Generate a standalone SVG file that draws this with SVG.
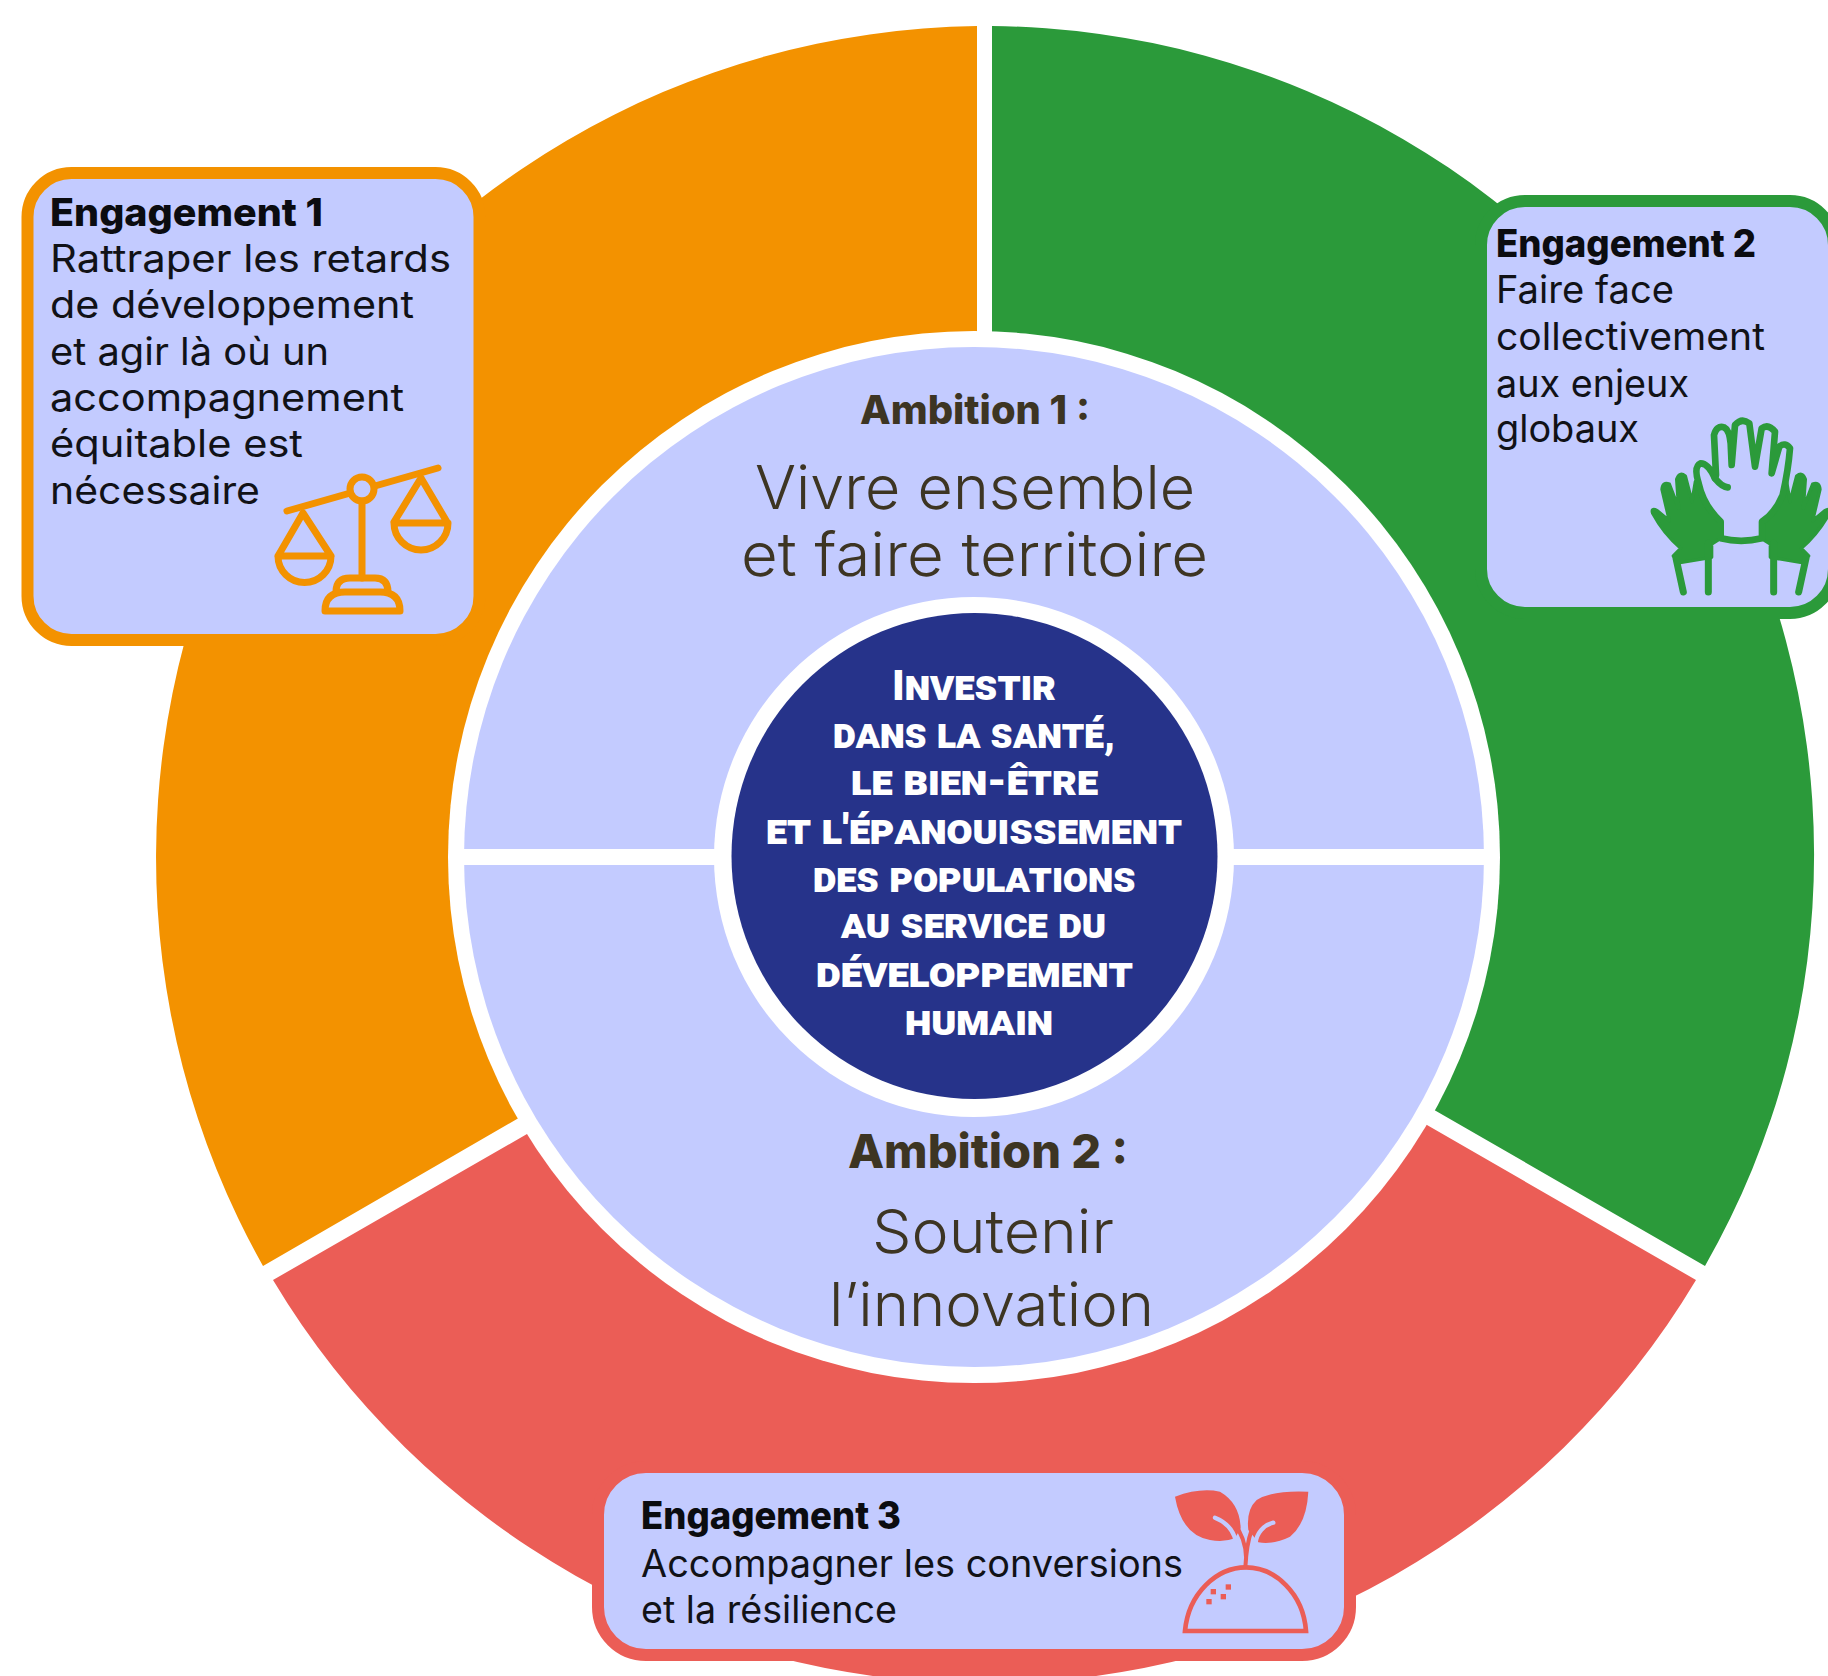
<svg xmlns="http://www.w3.org/2000/svg" xmlns:xlink="http://www.w3.org/1999/xlink" width="1828" height="1676" viewBox="0 0 1828 1676">
<style>
text{font-family:"Inter","Liberation Sans",sans-serif}
.e{font-size:38px;fill:#111217}
.eb{font-size:38px;font-weight:800;fill:#0b0c10}
.a{fill:#3d3523}
.ab{font-size:40px;font-weight:800}
.ab2{font-size:47px;font-weight:800}
.al{font-size:61px;font-weight:300}
.c{font-family:"Roboto","Liberation Sans",sans-serif;font-size:43px;font-weight:900;font-variant:small-caps;fill:#fff}
.box{fill:#c3cbff;stroke-width:12}
.ln{fill:none;stroke:#f39200;stroke-width:7;stroke-linecap:round;stroke-linejoin:round}
</style>
<defs>
<g id="sidehand">
<path fill="#2b9a3a" stroke="#2b9a3a" stroke-width="10" stroke-linejoin="round" d="M578,1000Q572,982 592,992L628,1022L606,928Q608,904 628,912L656,985L650,898Q658,874 676,888L696,965L706,905L726,960Q750,1005 782,1025V1075L755,1092V1132L660,1148L640,1128L662,1105Q610,1060 578,1000Z"/>
<path fill="none" stroke="#2b9a3a" stroke-width="21" stroke-linecap="round" d="M745,1090V1236M648,1135L670,1236"/>
</g>
</defs>
<rect width="1828" height="1676" fill="#fff"/>
<g id="sectors">
<path id="sector-orange" fill="#f39200" d="M977,857V26A832,832 0 0 0 263,1266L517,1119Z"/>
<path id="sector-green" fill="#2b9a3a" d="M992,857V26A829,829 0 0 1 1705,1266L1436,1111Z"/>
<path id="sector-red" fill="#eb5d56" d="M974,857L527,1134L273,1280A829,829 0 0 0 1696,1280L1427,1125Z"/>
</g>
<g id="ambitions">
<circle cx="974" cy="857" r="526" fill="#fff"/>
<circle cx="974" cy="857" r="510" fill="#c3cbff"/>
<rect x="460" y="849" width="1030" height="16" fill="#fff"/>
<text class="a ab" x="860" y="424" textLength="230" lengthAdjust="spacingAndGlyphs">Ambition 1 :</text>
<text class="a al" x="755" y="509" textLength="440" lengthAdjust="spacingAndGlyphs">Vivre ensemble</text>
<text class="a al" x="741" y="576" textLength="467" lengthAdjust="spacingAndGlyphs">et faire territoire</text>
<text class="a ab2" x="848" y="1168" textLength="280" lengthAdjust="spacingAndGlyphs">Ambition 2 :</text>
<text class="a al" x="872" y="1253" textLength="242" lengthAdjust="spacingAndGlyphs">Soutenir</text>
<text class="a al" x="829" y="1326" textLength="325" lengthAdjust="spacingAndGlyphs">l’innovation</text>
</g>
<g id="centre">
<circle cx="974" cy="857" r="260" fill="#fff"/>
<circle cx="974.500" cy="856" r="243" fill="#26338a"/>
<text class="c" x="892" y="700" textLength="164" lengthAdjust="spacingAndGlyphs">Investir</text>
<text class="c" x="833" y="748" textLength="282" lengthAdjust="spacingAndGlyphs">dans la santé,</text>
<text class="c" x="851" y="795" textLength="247" lengthAdjust="spacingAndGlyphs">le bien-être</text>
<text class="c" x="766" y="844" textLength="416" lengthAdjust="spacingAndGlyphs">et l'épanouissement</text>
<text class="c" x="813" y="892" textLength="323" lengthAdjust="spacingAndGlyphs">des populations</text>
<text class="c" x="841" y="938" textLength="265" lengthAdjust="spacingAndGlyphs">au service du</text>
<text class="c" x="816" y="987" textLength="317" lengthAdjust="spacingAndGlyphs">développement</text>
<text class="c" x="905" y="1035" textLength="148" lengthAdjust="spacingAndGlyphs">humain</text>
</g>
<g id="engagement-1">
<rect class="box" x="27.500" y="173" width="452" height="467" rx="44" stroke="#f39200"/>
<text class="eb" x="50" y="226" textLength="273" lengthAdjust="spacingAndGlyphs">Engagement 1</text>
<text class="e" x="50" y="272" textLength="401" lengthAdjust="spacingAndGlyphs">Rattraper les retards</text>
<text class="e" x="50" y="318" textLength="364" lengthAdjust="spacingAndGlyphs">de développement</text>
<text class="e" x="50" y="365" textLength="279" lengthAdjust="spacingAndGlyphs">et agir là où un</text>
<text class="e" x="50" y="411" textLength="354" lengthAdjust="spacingAndGlyphs">accompagnement</text>
<text class="e" x="50" y="457" textLength="253" lengthAdjust="spacingAndGlyphs">équitable est</text>
<text class="e" x="50" y="504" textLength="210" lengthAdjust="spacingAndGlyphs">nécessaire</text>
<g class="ln">
<path d="M287,511L438,468"/>
<circle cx="362" cy="489" r="12" fill="#c3cbff"/>
<path d="M362,501V578"/>
<path d="M336,592Q336,578 350,578H375Q388,578 388,592"/>
<path d="M325,611Q325,592 345,592H380Q400,592 400,611Z"/>
<path d="M303,513L278,556M303,513L331,556M278,556H331A26.500,26.500 0 0 1 278,556Z"/>
<path d="M421,478L394,522M421,478L447,522M394,523H448A27,27 0 0 1 394,523Z"/>
</g>
</g>
<g id="engagement-2">
<rect class="box" x="1481" y="201" width="353" height="412" rx="44" stroke="#2b9a3a"/>
<text class="eb" x="1496" y="257" textLength="260" lengthAdjust="spacingAndGlyphs">Engagement 2</text>
<text class="e" x="1496" y="303" textLength="178" lengthAdjust="spacingAndGlyphs">Faire face</text>
<text class="e" x="1496" y="350" textLength="269" lengthAdjust="spacingAndGlyphs">collectivement</text>
<text class="e" x="1496" y="397" textLength="193" lengthAdjust="spacingAndGlyphs">aux enjeux</text>
<text class="e" x="1496" y="442" textLength="143" lengthAdjust="spacingAndGlyphs">globaux</text>
<g transform="translate(1460,180) scale(.33333)">
<use href="#sidehand" xlink:href="#sidehand"/>
<use href="#sidehand" xlink:href="#sidehand" transform="matrix(-1 0 0 1 1686 0)"/>
<path fill="#c3cbff" stroke="#2b9a3a" stroke-width="20" stroke-linejoin="round" stroke-linecap="round" d="M782,1075V1025Q730,975 716,910Q700,860 722,850Q745,850 765,895L768,885L762,765Q770,735 792,742Q808,750 812,790L815,855L825,735Q845,712 868,730L885,860L905,745Q925,730 945,755L935,880L958,800Q975,785 990,805Q985,870 968,945Q945,1000 906,1025V1075Q843,1090 782,1075Z"/>
<path fill="none" stroke="#2b9a3a" stroke-width="20" stroke-linecap="round" d="M765,895Q785,920 803,922"/>
</g>
</g>
<g id="engagement-3">
<rect class="box" x="598" y="1467" width="752" height="188" rx="48" stroke="#eb5d56"/>
<text class="eb" x="641" y="1529" textLength="260" lengthAdjust="spacingAndGlyphs">Engagement 3</text>
<text class="e" x="641" y="1577" textLength="542" lengthAdjust="spacingAndGlyphs">Accompagner les conversions</text>
<text class="e" x="641" y="1623" textLength="256" lengthAdjust="spacingAndGlyphs">et la résilience</text>
<g transform="translate(1160,1480) scale(.33333)">
<g fill="#eb5d56">
<path d="M45,50Q120,22 180,35Q240,70 242,145L225,175Q190,188 150,180Q65,165 45,50Z"/>
<path d="M445,35Q440,130 390,170Q340,195 295,187L265,150Q258,90 290,60Q340,30 445,35Z"/>
<rect x="152" y="327" width="16" height="16"/><rect x="197" y="313" width="16" height="16"/><rect x="182" y="342" width="16" height="16"/><rect x="139" y="357" width="16" height="16"/>
</g>
<g fill="none" stroke-linecap="round">
<path stroke="#c3cbff" stroke-width="13" d="M165,113C195,125 220,150 228,185M340,128C310,135 290,160 287,188"/>
<path stroke="#eb5d56" stroke-width="12" d="M256,262C262,225 255,185 236,150M256,262C258,225 262,185 275,150"/>
<path stroke="#eb5d56" stroke-width="14" stroke-linejoin="miter" d="M75,453C85,340 170,262 258,262C345,262 430,340 438,453Z"/>
</g>
</g>
</g>
</svg>
